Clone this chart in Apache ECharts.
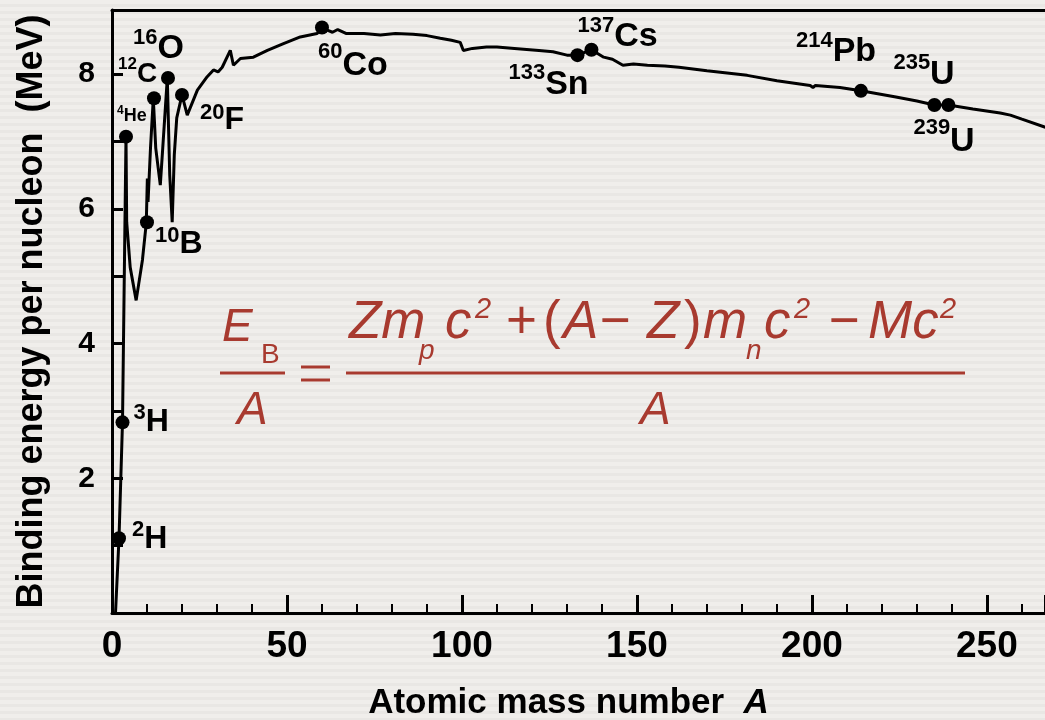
<!DOCTYPE html>
<html>
<head>
<meta charset="utf-8">
<script src="https://cdn.jsdelivr.net/npm/echarts@6/dist/echarts.min.js"></script>
<style>
  html, body { margin: 0; padding: 0; }
  body {
    background: repeating-linear-gradient(to bottom, #f0eeeb 0px, #f0eeeb 4px, #e9e7e4 4px, #e9e7e4 7px);
  }
  #main { width: 1045px; height: 720px; }
</style>
</head>
<body>
<div id="main"></div>
<script>
// binding energy curve (A, MeV per nucleon)
const curveA = [1, 2, 3, 4, 4.2, 5.2, 6.9, 8.7, 9.8, 10.1, 10.3, 11.0, 11.8, 12.5, 13.8, 14.5, 15.8,
  16.5, 17.2, 17.8, 18.5, 20.0, 21.5, 24.4, 27.2, 29.0, 30.3, 31.5, 33.8, 34.7, 36.7, 40.4, 44.4,
  49.0, 53.8, 58.6, 60, 61.5, 63, 64.5, 67, 72, 76.7, 81, 86, 90, 93.8, 97, 99.5, 100.4, 103, 107,
  110, 115, 122, 126, 130, 133, 137, 140.5, 143, 146, 149, 153, 158, 162, 170, 181.5, 190, 199.5,
  200.3, 201, 208, 214, 224, 230, 235, 239, 246, 253.8, 256.7, 260, 266.7];
const curveE = [0, 1.11, 2.83, 7.07, 5.8, 5.13, 4.64, 5.24, 5.79, 6.45, 6.1, 6.9, 7.64, 6.9, 6.35, 6.9, 7.94,
  6.5, 5.8, 6.8, 7.35, 7.69, 7.39, 7.76, 7.96, 8.06, 8.03, 8.1, 8.35, 8.13, 8.23, 8.25, 8.35,
  8.45, 8.55, 8.6, 8.69, 8.65, 8.62, 8.66, 8.6, 8.6, 8.58, 8.6, 8.59, 8.57, 8.53, 8.5, 8.47, 8.35, 8.38, 8.4,
  8.4, 8.38, 8.35, 8.33, 8.28, 8.28, 8.36, 8.25, 8.22, 8.13, 8.15, 8.13, 8.12, 8.1, 8.05, 7.98, 7.9, 7.83,
  7.8, 7.83, 7.8, 7.75, 7.66, 7.6, 7.54, 7.54, 7.48, 7.42, 7.39, 7.33, 7.21];

// marked nuclides
const isotopeName = ['2H', '3H', '4He', '10B', '12C', '16O', '20F', '60Co', '133Sn', '137Cs', '214Pb', '235U', '239U'];
const isotopeA = [2, 3, 4, 10, 12, 16, 20, 60, 133, 137, 214, 235, 239];
const isotopeE = [1.11, 2.83, 7.07, 5.8, 7.64, 7.94, 7.69, 8.69, 8.28, 8.36, 7.75, 7.54, 7.54];

const xTicks = [0, 50, 100, 150, 200, 250];
const yTicks = [2, 4, 6, 8];

// label placement: offset of label box from the dot, font sizes
const labelLayout = {
  '2H':    { dx: 13,  dy: -19, sup: 22, main: 32, pad: 4 },
  '3H':    { dx: 11,  dy: -20, sup: 22, main: 32, pad: 4 },
  '4He':   { dx: -9,  dy: -32, sup: 12, main: 18, pad: 2 },
  '10B':   { dx: 8,   dy: 3,   sup: 22, main: 32, pad: 3 },
  '12C':   { dx: -36, dy: -42, sup: 17, main: 28, pad: 4 },
  '16O':   { dx: -35, dy: -51, sup: 22, main: 34, pad: 5 },
  '20F':   { dx: 18,  dy: 7,   sup: 22, main: 32, pad: 2 },
  '60Co':  { dx: -4,  dy: 13,  sup: 22, main: 34, pad: 8 },
  '133Sn': { dx: -69, dy: 7,   sup: 22, main: 34, pad: 5 },
  '137Cs': { dx: -14, dy: -35, sup: 22, main: 34, pad: 5 },
  '214Pb': { dx: -65, dy: -61, sup: 22, main: 34, pad: 5 },
  '235U':  { dx: -41, dy: -53, sup: 22, main: 34, pad: 6 },
  '239U':  { dx: -35, dy: 12,  sup: 22, main: 34, pad: 8 }
};

const FONT = '"Liberation Sans", Arial, Helvetica, sans-serif';
const RED = '#a83a2f';
const DOT = 14;
const X_MAX = 266.6;

let chart = echarts.init(document.getElementById('main'));

const curveData = curveA.map((a, i) => [a, curveE[i]]);

const dotData = isotopeName.map((n, i) => {
  const l = labelLayout[n];
  return {
    name: n,
    value: [isotopeA[i], isotopeE[i]],
    label: {
      position: [l.dx + DOT / 2, l.dy + DOT / 2],
      rich: {
        s: { fontSize: l.sup, fontWeight: 'bold', fontFamily: FONT, color: '#000', verticalAlign: 'top' },
        m: { fontSize: l.main, fontWeight: 'bold', fontFamily: FONT, color: '#000', padding: [l.pad, 0, 0, 0] }
      }
    }
  };
});

// pieces of the formula (decoration drawn with graphic texts)
function piece(t, x, y, size, italic) {
  return {
    type: 'text', x: x, y: y, silent: true,
    style: {
      text: t, fill: RED, fontFamily: FONT, fontSize: size,
      fontStyle: italic ? 'italic' : 'normal',
      align: 'left', verticalAlign: 'middle'
    }
  };
}
function bar(x1, x2, y) {
  return {
    type: 'line', silent: true,
    shape: { x1: x1, y1: y, x2: x2, y2: y },
    style: { stroke: RED, lineWidth: 3 }
  };
}

const formula = [
  piece('E', 222, 328, 46, true),
  piece('B', 261, 355, 28, false),
  bar(220, 285, 373),
  piece('A', 237, 411, 46, true),
  bar(301, 330, 367),
  bar(301, 330, 380),
  piece('Zm', 349, 323, 53, true),
  piece('p', 419, 351, 28, true),
  piece('c', 445, 323, 53, true),
  piece('2', 475, 310, 29, true),
  piece('+', 506, 323, 53, false),
  piece('(', 543, 323, 53, false),
  piece('A', 563, 323, 53, true),
  piece('\u2212', 600, 323, 53, false),
  piece('Z', 647, 323, 53, true),
  piece(')', 684, 323, 53, false),
  piece('m', 703, 323, 53, true),
  piece('n', 746, 351, 28, true),
  piece('c', 764, 323, 53, true),
  piece('2', 794, 310, 29, true),
  piece('\u2212', 829, 323, 53, false),
  piece('Mc', 868, 323, 53, true),
  piece('2', 940, 310, 29, true),
  bar(346, 965, 373),
  piece('A', 640, 411, 46, true)
];

let option = {
  animation: false,
  grid: { left: 112, right: 0, top: 10, bottom: 107, containLabel: false, outerBoundsMode: 'none' },
  xAxis: [
    {
      type: 'value', position: 'bottom', min: 0, max: X_MAX, interval: 10,
      axisLine: { show: true, lineStyle: { color: '#000', width: 3 } },
      axisTick: { show: true, inside: true, length: 9, lineStyle: { color: '#000', width: 2 } },
      axisLabel: { show: false },
      splitLine: { show: false }
    },
    {
      type: 'value', position: 'bottom', min: 0, max: X_MAX, interval: 50,
      axisLine: { show: false },
      axisTick: { show: true, inside: true, length: 18, lineStyle: { color: '#000', width: 3 } },
      axisLabel: {
        margin: 15, color: '#000', fontSize: 37, fontWeight: 'bold', fontFamily: FONT,
        formatter: v => xTicks.includes(v) ? String(v) : ''
      },
      splitLine: { show: false },
      name: 'Atomic mass number  {i|A}',
      nameLocation: 'middle',
      nameGap: 73,
      nameTextStyle: {
        color: '#000', fontSize: 35, fontWeight: 'bold', fontFamily: FONT, padding: [0, 20, 0, 0],
        rich: { i: { fontSize: 35, fontWeight: 'bold', fontStyle: 'italic', fontFamily: FONT, color: '#000' } }
      }
    },
    {
      // top frame line
      type: 'value', position: 'top', min: 0, max: X_MAX,
      axisLine: { show: true, lineStyle: { color: '#000', width: 3 } },
      axisTick: { show: false },
      axisLabel: { show: false },
      splitLine: { show: false }
    }
  ],
  yAxis: {
    type: 'value', min: 0, max: 8.95, interval: 1,
    axisLine: { show: true, lineStyle: { color: '#000', width: 3 } },
    axisTick: { show: true, inside: true, length: 11, lineStyle: { color: '#000', width: 3 } },
    axisLabel: {
      margin: 17, color: '#000', fontSize: 30, fontWeight: 'bold', fontFamily: FONT,
      formatter: v => yTicks.includes(v) ? String(v) : ''
    },
    splitLine: { show: false },
    name: 'Binding energy per nucleon  (MeV)',
    nameLocation: 'middle',
    nameGap: 62,
    nameTextStyle: { color: '#000', fontSize: 36, fontWeight: 'bold', fontFamily: FONT }
  },
  series: [
    {
      type: 'line',
      data: curveData,
      showSymbol: false,
      smooth: false,
      lineStyle: { color: '#000', width: 3 },
      z: 2
    },
    {
      type: 'scatter',
      data: dotData,
      symbol: 'circle',
      symbolSize: DOT,
      itemStyle: { color: '#000', opacity: 1 },
      label: {
        show: true,
        align: 'left',
        verticalAlign: 'top',
        opacity: 1,
        formatter: p => {
          const m = p.name.match(/^(\d+)(\D+)$/);
          return '{s|' + m[1] + '}{m|' + m[2] + '}';
        }
      },
      z: 3
    }
  ],
  graphic: { elements: formula }
};

option && chart.setOption(option);
</script>
</body>
</html>
